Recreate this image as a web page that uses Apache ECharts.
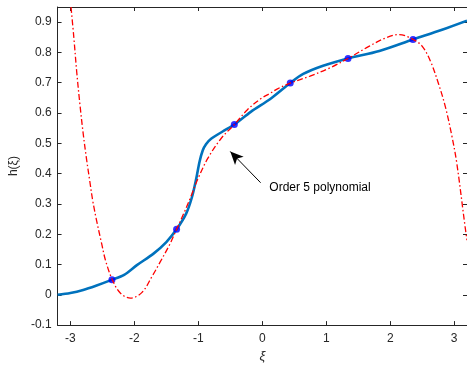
<!DOCTYPE html>
<html><head><meta charset="utf-8">
<script src="https://cdn.jsdelivr.net/npm/echarts@6/dist/echarts.min.js"></script>
<style>html,body{margin:0;padding:0;background:#fff}#c{width:467px;height:368px}</style>
</head><body><div id="c"></div>
<script>
// true function h(xi)
const curveX = [-3.2, -3.0, -2.8, -2.6, -2.345, -2.16, -1.96, -1.7, -1.5, -1.34, -1.19, -1.1, -1.03, -0.98, -0.93, -0.88, -0.8, -0.62, -0.437, -0.18, 0.13, 0.437, 0.64, 0.95, 1.339, 1.83, 2.356, 2.81, 3.2];
const curveY = [0.0, 0.006, 0.016, 0.030, 0.050, 0.066, 0.098, 0.136, 0.174, 0.216, 0.268, 0.322, 0.386, 0.440, 0.477, 0.497, 0.515, 0.539, 0.562, 0.604, 0.647, 0.699, 0.729, 0.756, 0.780, 0.805, 0.843, 0.875, 0.905];
// order 5 polynomial
const polyX = [-2.99, -2.947, -2.90, -2.85, -2.80, -2.75, -2.70, -2.65, -2.59, -2.51, -2.45, -2.345, -2.22, -2.06, -1.88, -1.72, -1.60, -1.45, -1.34, -1.21, -1.1, -1.0, -0.85, -0.644, -0.437, -0.232, -0.026, 0.13, 0.23, 0.437, 0.747, 1.056, 1.339, 1.674, 1.932, 2.138, 2.356, 2.498, 2.627, 2.756, 2.86, 2.961, 3.04, 3.17, 3.2];
const polyY = [0.95, 0.852, 0.734, 0.627, 0.533, 0.452, 0.380, 0.310, 0.245, 0.168, 0.113, 0.050, 0.006, -0.011, 0.008, 0.062, 0.107, 0.165, 0.216, 0.277, 0.333, 0.386, 0.451, 0.516, 0.562, 0.611, 0.647, 0.666, 0.679, 0.699, 0.722, 0.749, 0.780, 0.821, 0.848, 0.859, 0.843, 0.821, 0.772, 0.696, 0.622, 0.527, 0.435, 0.225, 0.18];
// interpolation nodes
const nodeX = [-2.35, -1.34, -0.437, 0.437, 1.34, 2.356];
const nodeY = [0.050, 0.216, 0.562, 0.699, 0.780, 0.843];
const xTickValues = [-3, -2, -1, 0, 1, 2, 3];
const yTickValues = [-0.1, 0, 0.1, 0.2, 0.3, 0.4, 0.5, 0.6, 0.7, 0.8, 0.9];
const annotationText = 'Order 5 polynomial';
const arrowTail = [-0.026, 0.37];
const arrowHead = [-0.50, 0.473];
const textAnchor = [0.11, 0.353];

const zip = (a, b) => a.map((v, i) => [v, b[i]]);
const axisColor = '#262626';
const font = 'Liberation Sans, Arial, Helvetica, sans-serif';

const chart = echarts.init(document.getElementById('c'));
const baseX = {
  type: 'value', min: -3.2, max: 3.2,
  axisLine: { show: true, onZero: false, lineStyle: { color: axisColor, width: 1 } },
  splitLine: { show: false },
};
const baseY = {
  type: 'value', min: -0.1, max: 0.95,
  axisLine: { show: true, onZero: false, lineStyle: { color: axisColor, width: 1 } },
  splitLine: { show: false },
};
chart.setOption({
  animation: false,
  backgroundColor: '#fff',
  grid: { left: 55, right: -2, top: 7, bottom: 39, containLabel: false },
  xAxis: [
    Object.assign({}, baseX, {
      position: 'bottom',
      name: 'ξ', nameLocation: 'middle', nameGap: 20,
      nameTextStyle: { fontFamily: font, fontSize: 13, fontStyle: 'italic', color: axisColor },
      axisTick: { show: true, inside: true, length: 4, lineStyle: { color: axisColor }, customValues: xTickValues },
      axisLabel: { show: true, margin: 8, fontFamily: font, fontSize: 12, color: axisColor, customValues: xTickValues, formatter: v => String(v) },
    }),
    Object.assign({}, baseX, {
      position: 'top',
      axisTick: { show: true, inside: true, length: 4, lineStyle: { color: axisColor }, customValues: xTickValues },
      axisLabel: { show: false },
    }),
  ],
  yAxis: [
    Object.assign({}, baseY, {
      position: 'left',
      name: 'h(ξ)', nameLocation: 'middle', nameGap: 37, nameRotate: 90,
      nameTextStyle: { fontFamily: font, fontSize: 12, color: axisColor },
      axisTick: { show: true, inside: true, length: 4, lineStyle: { color: axisColor }, customValues: yTickValues },
      axisLabel: { show: true, margin: 6, fontFamily: font, fontSize: 12, color: axisColor, customValues: yTickValues, formatter: v => String(v) },
    }),
    Object.assign({}, baseY, {
      position: 'right',
      axisTick: { show: true, inside: true, length: 4, lineStyle: { color: axisColor }, customValues: yTickValues },
      axisLabel: { show: false },
    }),
  ],
  series: [
    {
      name: 'h', type: 'line', xAxisIndex: 0, yAxisIndex: 0,
      data: zip(curveX, curveY), showSymbol: false, smooth: 0.3, z: 2,
      lineStyle: { color: '#0072BD', width: 2.6 },
    },
    {
      name: 'nodes', type: 'scatter', xAxisIndex: 0, yAxisIndex: 0,
      data: zip(nodeX, nodeY), symbol: 'circle', symbolSize: 7, z: 3,
      itemStyle: { color: '#0000FF', borderColor: '#0000FF', borderWidth: 0 },
      markLine: {
        silent: true, animation: false,
        symbol: ['none', 'arrow'], symbolSize: [9, 13],
        lineStyle: { color: '#000', width: 1, type: 'solid' },
        label: { show: false },
        data: [[{ coord: arrowTail }, { coord: arrowHead }]],
      },
      markPoint: {
        silent: true, animation: false,
        symbol: 'circle', symbolSize: 0,
        label: { show: true, position: 'right', distance: 0, formatter: annotationText, fontFamily: font, fontSize: 12, color: '#000' },
        data: [{ coord: textAnchor }],
      },
    },
    {
      name: 'poly', type: 'line', xAxisIndex: 0, yAxisIndex: 0,
      data: zip(polyX, polyY), showSymbol: false, smooth: 0.35, z: 4,
      lineStyle: { color: '#FF0000', width: 1.3, type: [6, 2.5, 1.5, 2.5] },
    },
  ],
});
</script></body></html>
